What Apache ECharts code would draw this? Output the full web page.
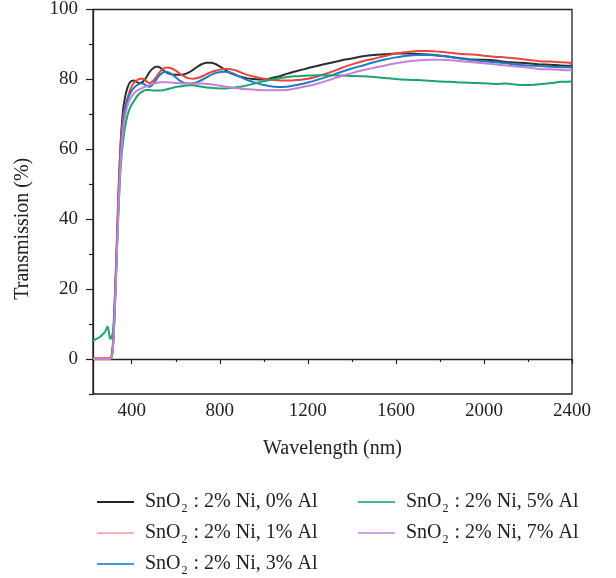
<!DOCTYPE html>
<html><head><meta charset="utf-8">
<script src="https://cdn.jsdelivr.net/npm/echarts@6/dist/echarts.min.js"></script>
<style>html,body{margin:0;padding:0;background:#fff}#c{width:616px;height:578px}</style>
</head><body><div id="c"></div>
<script>
const wavelength = [224,240,255,270,280,290,300,305,310,315,320,330,340,350,360,370,380,390,400,410,420,430,440,450,460,470,480,490,500,510,520,530,540,550,560,580,600,620,640,660,680,700,720,740,760,780,800,820,840,860,880,900,925,950,975,1000,1025,1050,1075,1100,1125,1150,1200,1250,1300,1350,1400,1450,1500,1550,1600,1650,1700,1750,1800,1850,1900,1950,2000,2050,2100,2150,2200,2250,2300,2350,2400];

const al0 = [0,0,0,0,0,0,0,0.2,1,4,10,27,46,62,71,75,77.5,79,79.6,79.7,79.4,79,79,79.3,80,81,82,82.8,83.3,83.6,83.6,83.3,82.8,82.3,81.9,81.5,81.3,81.3,81.5,82,82.8,83.7,84.4,84.8,84.8,84.4,83.7,82.9,82.1,81.5,81,80.7,80.3,80.1,80,80,80.2,80.6,81,81.5,82,82.4,83.2,84,84.7,85.4,86,86.6,87,87.2,87.4,87.4,87.3,87.1,86.8,86.4,86,85.7,85.6,85.4,85,84.8,84.6,84.3,84.2,84,83.9];
const al1 = [0.2,0.2,0.2,0.2,0.2,0.2,0.2,0.3,1.5,5,12,30,49,62,69,72.5,74.5,76.5,78,79,79.6,80,80.2,80.2,79.8,79.3,79,79.2,79.8,80.6,81.5,82.3,82.9,83.3,83.4,83.2,82.5,81.6,80.8,80.3,80.2,80.4,80.9,81.5,82.1,82.5,82.8,83,83,82.8,82.4,81.9,81.3,80.9,80.5,80.2,80,79.8,79.7,79.7,79.7,79.8,80.2,81,82,83.2,84.3,85.2,85.9,86.7,87.4,87.8,88.1,88.1,87.9,87.6,87.3,87.1,86.8,86.5,86.3,86,85.6,85.2,85.1,84.9,84.7];
const al3 = [0,0,0,0,0,0,0,0.2,1,4,10,27,45,59,67,71.5,74,75.6,76.8,77.6,78.2,78.6,78.8,78.8,78.5,78.1,77.9,78.2,78.9,79.8,80.7,81.4,81.9,82.1,82.1,81.6,80.6,79.6,79,78.8,78.9,79.3,79.9,80.6,81.3,81.8,82.1,82.2,82.1,81.7,81.1,80.5,79.8,79.3,78.8,78.4,78.1,77.9,77.8,77.9,78.1,78.4,79.1,80,81,82.1,83.1,84,84.9,85.7,86.3,86.8,87,87,86.8,86.4,85.9,85.5,85.2,84.9,84.6,84.2,84,83.8,83.6,83.5,83.4];
const al5 = [5.2,5.8,6.3,7.2,7.9,9.3,6.2,5.8,6.5,8,13,27,43,55,62,66.5,69.5,71.5,72.8,73.8,74.8,75.6,76.2,76.6,76.9,77,77,76.9,76.8,76.8,76.8,76.8,76.9,77,77.2,77.5,77.8,78,78.2,78.3,78.3,78.1,77.9,77.7,77.6,77.5,77.4,77.4,77.5,77.6,77.8,78,78.3,78.7,79.1,79.5,79.8,80.1,80.4,80.6,80.8,80.9,81.1,81.2,81.2,81.1,81,80.9,80.7,80.4,80.1,79.9,79.8,79.6,79.4,79.3,79.1,79,78.9,78.7,78.8,78.5,78.4,78.6,78.9,79.3,79.4];
const al7 = [0,0,0,0,0,0,0,0.2,0.8,3.5,9,25,43,57,65,69.5,72.3,74,75.2,76,76.6,77,77.3,77.6,77.9,78.1,78.4,78.6,78.8,79,79.1,79.2,79.2,79.2,79.2,79.1,79,78.9,78.8,78.8,78.8,78.8,78.8,78.7,78.6,78.4,78.2,78,77.8,77.6,77.5,77.3,77.2,77.1,77,76.9,76.9,76.9,76.9,77,77.2,77.5,78.1,78.9,79.9,80.9,81.8,82.6,83.3,84,84.6,85.1,85.4,85.6,85.6,85.5,85.2,84.9,84.6,84.3,84,83.7,83.4,83,82.9,82.7,82.6];

const seriesNames = ['0% Al','1% Al','3% Al','5% Al','7% Al'];
const seriesValues = [al0, al1, al3, al5, al7];
const lineColors = ['#2e2e2e','#e8453c','#1f7cc4','#1aa470','#c77fd8'];
const legendColors = ['#262626','#f5b4b4','#3d9ad6','#3dbf8c','#d3a2e2'];
const xMajorTicks = [400,800,1200,1600,2000,2400];
const xMinorTicks = [600,1000,1400,1800,2200];
const yMajorTicks = [0,20,40,60,80,100];
const yMinorTicks = [-10,10,30,50,70,90];

const FONT = '"Liberation Serif","DejaVu Serif",serif';
const chart = echarts.init(document.getElementById('c'));

const legendPos = [[92,487],[92,518],[92,549],[353,487],[353,518]];
const legends = seriesNames.map((n,i)=>({
  data:[{name:n, itemStyle:{color:legendColors[i]}, lineStyle:{color:legendColors[i], width:2}}],
  left: legendPos[i][0], top: legendPos[i][1],
  itemWidth: 37, itemHeight: 14, icon: 'path://M0,0 L37,0 L37,2 L0,2 Z',
  selectedMode: false,
  formatter: (name)=>'{g|}{a|SnO}{s|2}{a| : 2% Ni, ' + name + '}',
  textStyle: {
    color:'#222', fontFamily: FONT, fontSize: 20,
    rich: {
      g: {width: 6},
      a: {fontFamily: FONT, fontSize: 20, color:'#222'},
      s: {fontFamily: FONT, fontSize: 12, color:'#222', padding:[14,1,0,1]}
    }
  }
}));

chart.setOption({
  animation: false,
  backgroundColor: '#fff',
  grid: {left: 93, right: 44, top: 9, bottom: 184, show: true, borderColor: '#222', borderWidth: 1.3},
  legend: legends,
  xAxis: [{
    type: 'value', min: 224, max: 2400,
    name: 'Wavelength (nm)', nameLocation: 'middle', nameGap: 45,
    nameTextStyle: {fontFamily: FONT, fontSize: 20, color: '#222'},
    axisLine: {show: true, lineStyle: {color: '#222', width: 1.3}},
    axisTick: {show: true, customValues: xMajorTicks, length: 5, lineStyle: {color: '#222', width: 1.2}},
    axisLabel: {customValues: xMajorTicks, formatter: (v)=>String(v), fontFamily: FONT, fontSize: 19, color: '#222', margin: 8},
    splitLine: {show: false}
  },{
    type: 'value', min: 224, max: 2400, position: 'bottom',
    axisLine: {show: false},
    axisTick: {show: true, customValues: xMinorTicks, length: 3, lineStyle: {color: '#222', width: 1.2}},
    axisLabel: {show: false},
    splitLine: {show: false}
  }],
  yAxis: [{
    type: 'value', min: -10, max: 100,
    name: 'Transmission (%)', nameLocation: 'middle', nameGap: 60,
    nameTextStyle: {fontFamily: FONT, fontSize: 20, color: '#222', padding: [0,0,0,-54]},
    axisLine: {show: true, lineStyle: {color: '#222', width: 1.3}},
    axisTick: {show: true, customValues: yMajorTicks, length: 7, lineStyle: {color: '#222', width: 1.2}},
    axisLabel: {customValues: yMajorTicks, formatter: (v)=>String(v), fontFamily: FONT, fontSize: 19, color: '#222', margin: 15},
    splitLine: {show: false}
  },{
    type: 'value', min: -10, max: 100, position: 'left',
    axisLine: {show: false},
    axisTick: {show: true, customValues: yMinorTicks, length: 4, lineStyle: {color: '#222', width: 1.2}},
    axisLabel: {show: false},
    splitLine: {show: false}
  }],
  series: seriesNames.map((n,i)=>({
    name: n, type: 'line', symbol: 'none', showSymbol: false, smooth: 0.3,
    lineStyle: {color: lineColors[i], width: 2},
    itemStyle: {color: lineColors[i]},
    data: wavelength.map((w,j)=>[w, seriesValues[i][j]])
  }))
});
</script></body></html>
